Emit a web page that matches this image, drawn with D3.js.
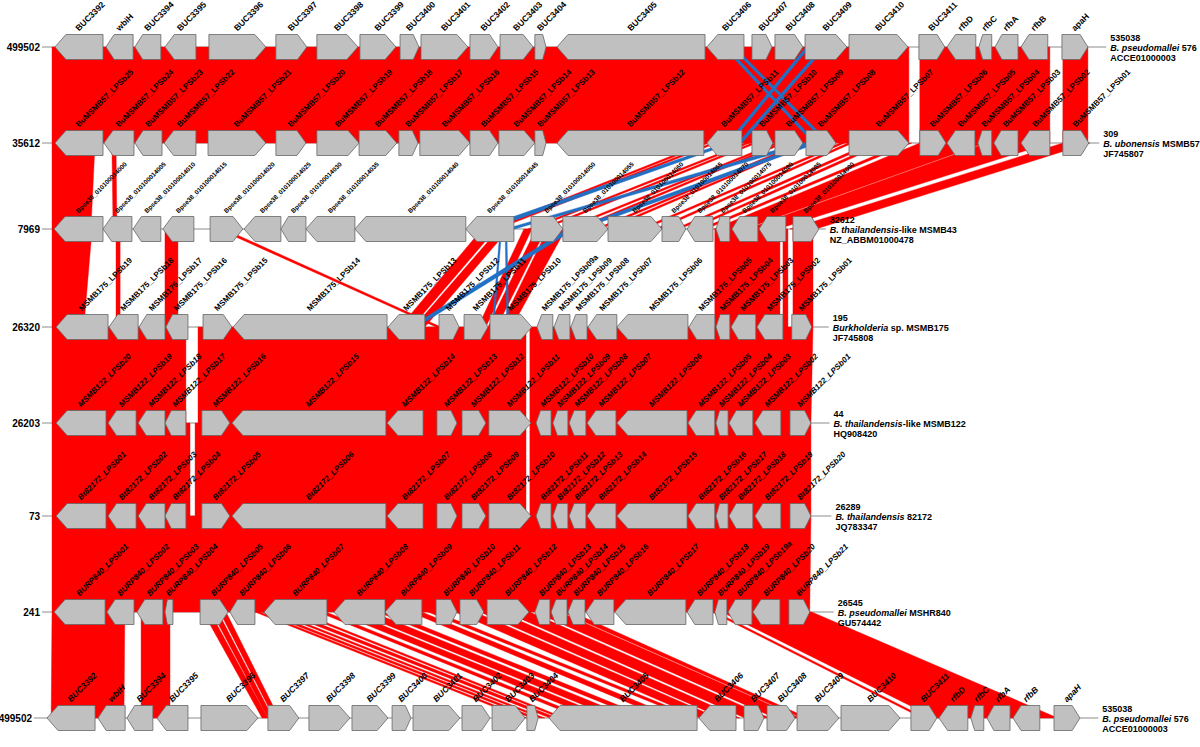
<!DOCTYPE html>
<html>
<head>
<meta charset="utf-8">
<script src="https://cdn.jsdelivr.net/npm/d3@7"></script>
<style>
body { margin: 0; background: #fff; }
svg text { font-family: "Liberation Sans", Arial, sans-serif; fill: #000; }
</style>
</head>
<body>
<div id="chart"></div>
<script>
// gene coordinates are in kb from the left end of each contig, strand 1 / -1
var genes576 = [[0.10,1.73,-1],[1.83,2.75,-1],[2.81,3.69,-1],[3.83,4.88,-1],[5.32,7.25,1],[7.59,8.64,1],[8.98,10.37,1],[10.44,11.66,1],[11.80,12.44,1],[12.51,14.10,1],[14.17,15.12,1],[15.19,16.31,1],[16.37,16.75,1],[17.12,22.14,-1],[22.20,23.46,-1],[23.73,24.41,1],[24.51,25.46,1],[25.53,26.95,1],[27.02,29.02,1],[29.39,30.27,1],[30.34,31.32,-1],[31.42,31.86,-1],[31.97,32.75,-1],[32.85,33.76,-1],[34.24,35.12,1]];
var labels576 = ['BUC3392','wbiH','BUC3394','BUC3395','BUC3396','BUC3397','BUC3398','BUC3399','BUC3400','BUC3401','BUC3402','BUC3403','BUC3404','BUC3405','BUC3406','BUC3407','BUC3408','BUC3409','BUC3410','BUC3411','rfbD','rfbC','rfbA','rfbB','apaH'];

var genesMSMB57 = [[0.10,1.73,-1],[1.76,2.78,-1],[2.81,3.73,-1],[3.80,4.88,-1],[5.29,7.25,1],[7.59,8.61,1],[8.98,10.41,1],[10.41,11.69,1],[11.76,12.41,1],[12.47,14.17,1],[14.17,15.12,1],[15.15,16.37,1],[16.37,16.75,1],[17.12,22.10,-1],[22.20,23.39,-1],[23.73,24.44,1],[24.51,25.46,1],[25.56,26.58,1],[27.02,29.05,1],[29.42,30.31,1],[30.34,31.29,-1],[31.39,31.86,-1],[31.93,32.75,-1],[32.85,33.83,-1],[34.27,35.15,1]];
var labelsMSMB57 = ['BuMSMB57_LPSb25','BuMSMB57_LPSb24','BuMSMB57_LPSb23','BuMSMB57_LPSb22','BuMSMB57_LPSb21','BuMSMB57_LPSb20','BuMSMB57_LPSb19','BuMSMB57_LPSb18','BuMSMB57_LPSb17','BuMSMB57_LPSb16','BuMSMB57_LPSb15','BuMSMB57_LPSb14','BuMSMB57_LPSb13','BuMSMB57_LPSb12','BuMSMB57_LPSb11','BuMSMB57_LPSb10','BuMSMB57_LPSb09','BuMSMB57_LPSb08','BuMSMB57_LPSb07','BuMSMB57_LPSb06','BuMSMB57_LPSb05','BuMSMB57_LPSb04','BuMSMB57_LPSb03','BuMSMB57_LPSb02','BuMSMB57_LPSb01'];

var genesMSMB43 = [[0.07,1.73,-1],[1.73,2.71,-1],[2.75,3.69,-1],[3.76,4.81,-1],[5.36,6.47,1],[6.51,7.76,-1],[7.76,8.61,-1],[8.61,10.27,-1],[10.27,14.03,-1],[14.03,15.66,-1],[16.24,17.32,1],[17.32,18.85,1],[18.85,20.68,1],[20.68,21.49,1],[21.53,22.41,-1],[22.51,22.98,-1],[23.05,23.93,-1],[23.97,24.88,-1],[25.12,26.00,1]];
var labelsMSMB43 = ['Bpse38_010100014000','Bpse38_010100014005','Bpse38_010100014010','Bpse38_010100014015','Bpse38_010100014020','Bpse38_010100014025','Bpse38_010100014030','Bpse38_010100014035','Bpse38_010100014040','Bpse38_010100014045','Bpse38_010100014050','Bpse38_010100014055','Bpse38_010100014060','Bpse38_010100014065','Bpse38_010100014070','Bpse38_010100014075','Bpse38_010100014080','Bpse38_010100014085','Bpse38_010100014090'];

var genesMSMB175 = [[0.14,1.90,-1],[1.93,2.92,-1],[2.95,3.83,-1],[3.86,4.61,-1],[5.12,6.10,1],[6.14,11.36,-1],[11.39,12.64,-1],[13.12,13.80,1],[13.97,14.78,1],[14.85,16.27,1],[16.44,16.98,-1],[17.02,17.56,-1],[17.59,18.14,-1],[18.17,19.15,-1],[19.15,21.56,-1],[21.59,22.47,-1],[22.51,22.98,-1],[23.02,23.86,-1],[23.90,24.78,-1],[25.08,25.76,1]];
var labelsMSMB175 = ['MSMB175_LPSb19','MSMB175_LPSb18','MSMB175_LPSb17','MSMB175_LPSb16','MSMB175_LPSb15','MSMB175_LPSb14','MSMB175_LPSb13','MSMB175_LPSb12','MSMB175_LPSb11','MSMB175_LPSb10','MSMB175_LPSb09a','MSMB175_LPSb09','MSMB175_LPSb08','MSMB175_LPSb07','MSMB175_LPSb06','MSMB175_LPSb05','MSMB175_LPSb04','MSMB175_LPSb03','MSMB175_LPSb02','MSMB175_LPSb01'];

var genesMSMB122 = [[0.14,1.83,-1],[1.90,2.85,-1],[2.92,3.83,-1],[3.83,4.54,-1],[5.08,6.03,1],[6.10,11.32,-1],[11.36,12.58,-1],[13.05,13.73,1],[13.90,14.71,1],[14.81,16.24,1],[16.41,16.92,-1],[16.98,17.49,-1],[17.53,18.10,-1],[18.14,19.12,-1],[19.15,21.53,-1],[21.56,22.47,-1],[22.51,22.92,-1],[22.95,23.76,-1],[23.83,24.71,-1],[25.02,25.73,1]];
var labelsMSMB122 = ['MSMB122_LPSb20','MSMB122_LPSb19','MSMB122_LPSb18','MSMB122_LPSb17','MSMB122_LPSb16','MSMB122_LPSb15','MSMB122_LPSb14','MSMB122_LPSb13','MSMB122_LPSb12','MSMB122_LPSb11','MSMB122_LPSb10','MSMB122_LPSb09','MSMB122_LPSb08','MSMB122_LPSb07','MSMB122_LPSb06','MSMB122_LPSb05','MSMB122_LPSb04','MSMB122_LPSb03','MSMB122_LPSb02','MSMB122_LPSb01'];

var genes82172 = [[0.14,1.83,-1],[1.90,2.85,-1],[2.92,3.83,-1],[3.83,4.54,-1],[5.08,6.03,1],[6.10,11.32,-1],[11.36,12.58,-1],[13.05,13.73,1],[13.90,14.71,1],[14.81,16.24,1],[16.41,16.92,-1],[16.98,17.49,-1],[17.53,18.10,-1],[18.14,19.12,-1],[19.15,21.53,-1],[21.56,22.47,-1],[22.51,22.92,-1],[22.95,23.76,-1],[23.83,24.71,-1],[25.02,25.73,1]];
var labels82172 = ['Bt82172_LPSb01','Bt82172_LPSb02','Bt82172_LPSb03','Bt82172_LPSb04','Bt82172_LPSb05','Bt82172_LPSb06','Bt82172_LPSb07','Bt82172_LPSb08','Bt82172_LPSb09','Bt82172_LPSb10','Bt82172_LPSb11','Bt82172_LPSb12','Bt82172_LPSb13','Bt82172_LPSb14','Bt82172_LPSb15','Bt82172_LPSb16','Bt82172_LPSb17','Bt82172_LPSb18','Bt82172_LPSb19','Bt82172_LPSb20'];

var genesMSHR840 = [[0.07,1.80,-1],[1.86,2.78,-1],[2.88,3.76,-1],[3.83,4.10,-1],[5.02,5.97,1],[6.03,6.88,-1],[7.19,9.32,-1],[9.56,11.29,-1],[11.29,12.54,-1],[13.02,13.73,1],[13.83,14.64,1],[14.75,16.17,1],[16.37,16.88,-1],[16.92,17.46,-1],[17.49,18.07,-1],[18.10,19.05,-1],[19.08,21.49,-1],[21.53,22.41,-1],[22.47,22.88,-1],[22.92,23.73,-1],[23.76,24.68,-1],[24.98,25.69,1]];
var labelsMSHR840 = ['BURP840_LPSb01','BURP840_LPSb02','BURP840_LPSb03','BURP840_LPSb04','BURP840_LPSb05','BURP840_LPSb06','BURP840_LPSb07','BURP840_LPSb08','BURP840_LPSb09','BURP840_LPSb10','BURP840_LPSb11','BURP840_LPSb12','BURP840_LPSb13','BURP840_LPSb14','BURP840_LPSb15','BURP840_LPSb16','BURP840_LPSb17','BURP840_LPSb18','BURP840_LPSb19','BURP840_LPSb19a','BURP840_LPSb20','BURP840_LPSb21'];

// contig descriptions
var leftCoords = ['499502','35612','7969','26320','26203','73','241','499502'];
var rightCoords = ['535038','309','32612','195','44','26289','26545','535038'];
var speciesItalic = ['B. pseudomallei','B. ubonensis','B. thailandensis','Burkholderia','B. thailandensis','B. thailandensis','B. pseudomallei','B. pseudomallei'];
var speciesRest = [' 576',' MSMB57','-like MSMB43',' sp. MSMB175','-like MSMB122',' 82172',' MSHR840',' 576'];
var accessions = ['ACCE01000003','JF745807','NZ_ABBM01000478','JF745808','HQ908420','JQ783347','GU574442','ACCE01000003'];
var contigKb = [35.54, 35.30, 26.03, 26.13, 26.16, 26.22, 26.30, 35.54];

// blast hits between neighbouring contigs: [start1, end1, start2, end2, 'f' same strand / 'r' inverted]
var hits12 = [[0,29.05,0,29.05,'f'],[29.42,33.83,29.42,33.83,'f'],[34.27,35.12,34.27,35.12,'f'],
  [22.75,22.88,25.80,25.93,'r'],[23.02,23.15,26.24,26.37,'r'],[25.56,25.69,22.88,23.02,'r'],[26.10,26.24,23.25,23.39,'r']];
var hits23 = [[0,1.46,0,1.32,'f'],[2.03,2.17,2.07,2.20,'f'],
  [22.10,22.27,14.75,14.92,'f'],[22.37,22.54,14.95,15.12,'f'],[23.49,23.66,16.14,16.31,'f'],[23.73,23.90,16.54,16.71,'f'],
  [24.51,24.68,17.32,17.49,'f'],[24.68,24.85,17.73,17.90,'f'],[25.36,25.53,18.41,18.58,'f'],[25.53,25.69,18.75,18.92,'f'],
  [26.71,26.88,19.93,20.10,'f'],[26.98,27.15,20.44,20.61,'f'],[27.73,27.93,21.12,21.29,'f'],[28.07,28.27,21.56,21.73,'f'],
  [28.92,29.15,21.97,22.17,'f'],[29.42,31.63,22.44,23.49,'f'],[31.69,33.83,23.56,24.61,'f'],[34.27,35.19,25.02,25.90,'f'],
  [22.81,23.08,14.44,14.85,'r'],[25.36,25.76,15.36,15.69,'r'],[25.63,25.97,17.63,17.97,'r']];
var hits34 = [[0,1.36,0,1.08,'f'],[2.17,2.31,2.17,2.31,'f'],[3.83,4.27,3.83,4.27,'f'],[5.63,5.83,13.02,13.19,'f'],
  [14.58,15.05,11.80,12.20,'f'],[15.15,15.49,12.27,12.64,'f'],[16.00,16.27,14.44,14.71,'f'],[16.41,16.75,14.78,15.08,'f'],
  [16.81,17.42,15.19,15.59,'f'],[22.47,24.68,22.47,24.68,'f'],[24.78,24.95,24.78,24.95,'f'],[25.12,25.80,25.12,25.80,'f'],
  [15.36,15.42,15.42,15.49,'r'],[15.19,15.25,14.92,14.98,'r'],[17.46,17.73,12.14,12.37,'r']];
var hits45 = [[0,4.54,0,4.54,'f'],[4.95,16.07,4.95,16.07,'f'],[16.20,25.80,16.20,25.73,'f']];
var hits56 = [[0,4.68,0,4.68,'f'],[4.85,16.07,4.85,16.07,'f'],[16.20,25.73,16.20,25.73,'f']];
var hits67 = [[0,25.73,0,25.69,'f']];
var hits78 = [[0,2.47,0.24,2.71,'f'],[3.02,4.00,3.29,4.27,'f'],[5.12,5.36,7.39,7.59,'f'],[5.42,5.63,7.59,7.76,'f'],
  [5.69,5.90,7.80,7.97,'f'],[6.88,7.05,16.20,16.37,'f'],[7.12,7.32,16.51,16.71,'f'],[7.46,7.63,16.81,16.98,'f'],
  [7.80,8.07,17.15,17.39,'f'],[8.24,8.41,17.49,17.66,'f'],[9.02,9.29,18.17,18.44,'f'],[9.59,10.10,18.68,19.19,'f'],
  [10.27,10.85,19.36,19.93,'f'],[11.05,11.39,20.20,20.54,'f'],[12.14,12.54,21.05,21.46,'f'],[12.75,13.02,21.90,22.14,'f'],
  [13.66,14.34,22.24,22.85,'f'],[14.51,15.19,22.98,23.59,'f'],[15.36,16.20,23.76,24.61,'f'],[16.37,17.22,24.78,25.63,'f'],
  [17.29,17.63,25.69,25.90,'f'],[22.37,22.51,29.76,29.90,'f'],[22.71,25.76,30.20,34.37,'f']];

var geneSets = [genes576, genesMSMB57, genesMSMB43, genesMSMB175, genesMSMB122, genes82172, genesMSHR840, genes576];
var labelSets = [labels576, labelsMSMB57, labelsMSMB43, labelsMSMB175, labelsMSMB122, labels82172, labelsMSHR840, labels576];
var hitSets = [hits12, hits23, hits34, hits45, hits56, hits67, hits78];

// layout
var rowY = [47, 143, 229, 327, 423, 516, 612, 718];
var rowShift = [0, 0, 0, 0, 0, 0, 0, -0.27];
var labelSize = [8.5, 8, 6.4, 8, 8, 8, 8, 8.5];
var labelItalic = [false, false, false, false, true, true, true, true];
var geneH = 25;
var hitColor = {f: '#ff0000', r: '#2170c4'};

var x = d3.scaleLinear().domain([0, 35.53]).range([52, 1100]);
var xPos = function (ti, kb) { return x(kb + rowShift[ti]); };

var svg = d3.select('#chart').append('svg')
	.attr('width', 1200)
	.attr('height', 747);

var gLines = svg.append('g');
var gHits = svg.append('g');
var gGenes = svg.append('g');
var gText = svg.append('g');

// contig axis lines
rowY.forEach(function (y, ti) {
	gLines.append('line')
		.attr('x1', xPos(ti, 0) - 10).attr('x2', xPos(ti, contigKb[ti]) + 6)
		.attr('y1', y).attr('y2', y)
		.attr('stroke', '#8c8c8c').attr('stroke-width', 1);
});

// comparisons, red first, inverted (blue) on top
hitSets.forEach(function (hits, ti) {
	var ya = rowY[ti], yb = rowY[ti + 1];
	var sorted = hits.filter(function (h) { return h[4] === 'f'; })
		.concat(hits.filter(function (h) { return h[4] === 'r'; }));
	gHits.selectAll('path.h' + ti)
		.data(sorted)
		.enter().append('path')
		.attr('class', 'h' + ti)
		.attr('d', function (h) {
			return d3.line()([[xPos(ti, h[0]), ya], [xPos(ti, h[1]), ya], [xPos(ti + 1, h[3]), yb], [xPos(ti + 1, h[2]), yb]]) + 'Z';
		})
		.attr('fill', function (h) { return hitColor[h[4]]; })
		.attr('stroke', function (h) { return hitColor[h[4]]; })
		.attr('stroke-width', 0.4);
});

var genePath = function (d, ti) {
	var x0 = xPos(ti, d[0]), x1 = xPos(ti, d[1]);
	var yc = rowY[ti], yt = yc - geneH / 2, yb = yc + geneH / 2;
	var h = Math.min(11, (x1 - x0) * 0.3);
	var pts = d[2] > 0
		? [[x0, yt], [x1 - h, yt], [x1, yc], [x1 - h, yb], [x0, yb]]
		: [[x1, yt], [x0 + h, yt], [x0, yc], [x0 + h, yb], [x1, yb]];
	return d3.line()(pts) + 'Z';
};

geneSets.forEach(function (genes, ti) {
	gGenes.selectAll('path.g' + ti)
		.data(genes)
		.enter().append('path')
		.attr('class', 'g' + ti)
		.attr('d', function (d) { return genePath(d, ti); })
		.attr('fill', '#c0c0c0')
		.attr('stroke', '#666')
		.attr('stroke-width', 0.8);

	gText.selectAll('text.l' + ti)
		.data(genes)
		.enter().append('text')
		.attr('class', 'l' + ti)
		.attr('transform', function (d) {
			var xc = (xPos(ti, d[0]) + xPos(ti, d[1])) / 2;
			return 'translate(' + xc + ',' + (rowY[ti] - geneH / 2 - 3) + ') rotate(-45)';
		})
		.style('font-size', labelSize[ti] + 'px')
		.style('font-weight', 'bold')
		.style('font-style', labelItalic[ti] ? 'italic' : 'normal')
		.text(function (d, i) { return labelSets[ti][i]; });
});

// contig names at both ends
rowY.forEach(function (y, ti) {
	gText.append('text')
		.attr('x', xPos(ti, 0) - 12).attr('y', y + 3.5)
		.attr('text-anchor', 'end')
		.style('font-size', '10px').style('font-weight', 'bold')
		.text(leftCoords[ti]);

	var xr = xPos(ti, contigKb[ti]) + 10;
	var t = gText.append('text')
		.attr('x', xr).attr('y', y - 6)
		.style('font-size', '9px').style('font-weight', 'bold');
	t.append('tspan').text(rightCoords[ti]);
	var sp = t.append('tspan').attr('x', xr).attr('dy', 10);
	sp.append('tspan').style('font-style', 'italic').text(speciesItalic[ti]);
	sp.append('tspan').text(speciesRest[ti]);
	t.append('tspan').attr('x', xr).attr('dy', 10).text(accessions[ti]);
});
</script>
</body>
</html>
